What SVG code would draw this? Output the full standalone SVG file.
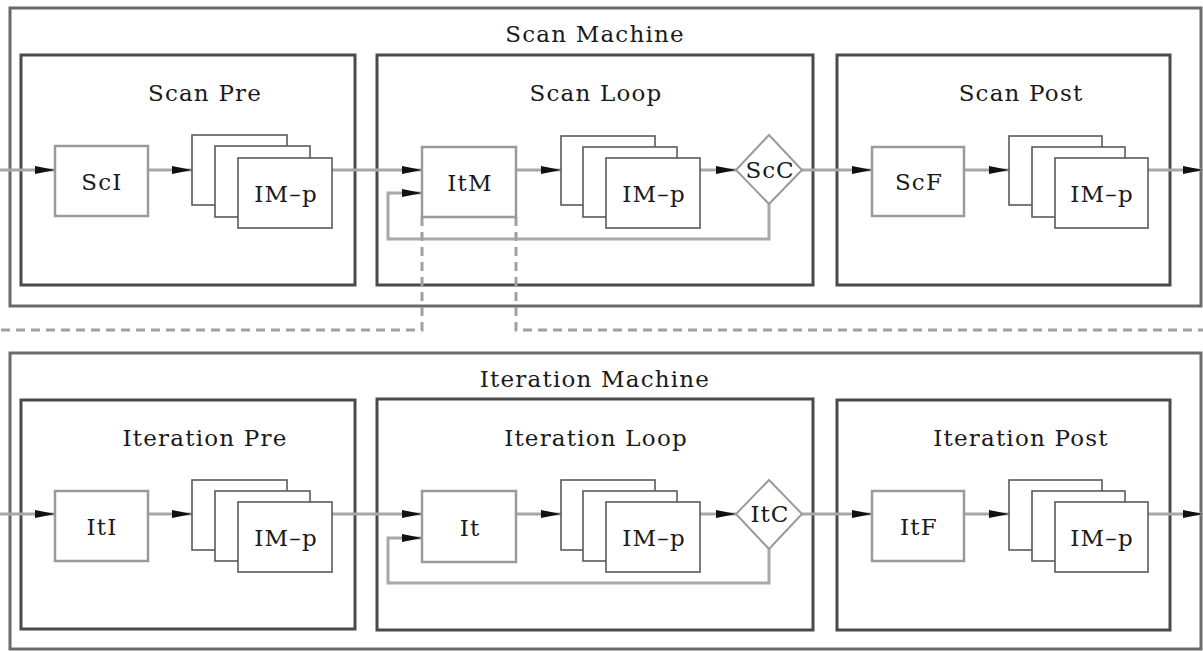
<svg xmlns="http://www.w3.org/2000/svg" width="1203" height="651" viewBox="0 0 1203 651">
<style>
.machine{fill:none;stroke:#6a6a6a;stroke-width:3}
.phase{fill:none;stroke:#4a4a4a;stroke-width:3}
.node{fill:#fff;stroke:#9a9a9a;stroke-width:2.5}
.stk{fill:#fff;stroke:#5a5a5a;stroke-width:1.6}
.dia{fill:#fff;stroke:#9a9a9a;stroke-width:2}
.conn{fill:none;stroke:#a8a8a8;stroke-width:3}
.dash{fill:none;stroke:#a0a0a0;stroke-width:3;stroke-dasharray:9,6}
text{font-family:"DejaVu Serif","Liberation Serif",serif;fill:#1a1a1a;text-anchor:middle;font-size:23px;letter-spacing:1.2px}
</style>
<defs>
<marker id="ah" viewBox="0 0 20 10" refX="20" refY="5" markerWidth="20" markerHeight="10" markerUnits="userSpaceOnUse" orient="auto">
<path d="M0,1 L20,5 L0,9 Z" fill="#111"/>
</marker>
</defs>
<rect width="1203" height="651" fill="#fff"/>

<g id="scan-machine">
<rect class="machine" x="10" y="8" width="1191" height="298"/>
<text x="595" y="42">Scan Machine</text>
</g>
<g id="iteration-machine">
<rect class="machine" x="10" y="353" width="1191" height="296"/>
<text x="595" y="387">Iteration Machine</text>
</g>

<g id="scan-pre"><rect class="phase" x="21" y="55" width="334" height="230"/><text x="205" y="101">Scan Pre</text></g>
<g id="scan-loop"><rect class="phase" x="377" y="55" width="436" height="230"/><text x="596" y="101">Scan Loop</text></g>
<g id="scan-post"><rect class="phase" x="837" y="55" width="333" height="230"/><text x="1021" y="101">Scan Post</text></g>
<g id="iteration-pre"><rect class="phase" x="21" y="400" width="334" height="229"/><text x="205" y="446">Iteration Pre</text></g>
<g id="iteration-loop"><rect class="phase" x="377" y="399" width="436" height="231"/><text x="596" y="446">Iteration Loop</text></g>
<g id="iteration-post"><rect class="phase" x="837" y="400" width="333" height="230"/><text x="1021" y="446">Iteration Post</text></g>

<g id="connectors">
<line class="conn" x1="0" y1="170" x2="55" y2="170" marker-end="url(#ah)"/>
<line class="conn" x1="148" y1="170" x2="192" y2="170" marker-end="url(#ah)"/>
<line class="conn" x1="332" y1="170" x2="422" y2="170" marker-end="url(#ah)"/>
<line class="conn" x1="516" y1="170" x2="561" y2="170" marker-end="url(#ah)"/>
<line class="conn" x1="700" y1="170" x2="736" y2="170" marker-end="url(#ah)"/>
<line class="conn" x1="802" y1="170" x2="872" y2="170" marker-end="url(#ah)"/>
<line class="conn" x1="964" y1="170" x2="1009" y2="170" marker-end="url(#ah)"/>
<line class="conn" x1="1148" y1="170" x2="1203" y2="170" marker-end="url(#ah)"/>
<path class="conn" d="M769,204 V239 H388 V193 H422" marker-end="url(#ah)"/>
<line class="conn" x1="0" y1="514" x2="55" y2="514" marker-end="url(#ah)"/>
<line class="conn" x1="148" y1="514" x2="192" y2="514" marker-end="url(#ah)"/>
<line class="conn" x1="332" y1="514" x2="422" y2="514" marker-end="url(#ah)"/>
<line class="conn" x1="516" y1="514" x2="561" y2="514" marker-end="url(#ah)"/>
<line class="conn" x1="700" y1="514" x2="736" y2="514" marker-end="url(#ah)"/>
<line class="conn" x1="802" y1="514" x2="872" y2="514" marker-end="url(#ah)"/>
<line class="conn" x1="964" y1="514" x2="1009" y2="514" marker-end="url(#ah)"/>
<line class="conn" x1="1148" y1="514" x2="1203" y2="514" marker-end="url(#ah)"/>
<path class="conn" d="M769,549 V583 H388 V538 H422" marker-end="url(#ah)"/>
<path class="dash" d="M422,217 V330 H0"/>
<path class="dash" d="M516,217 V330 H1203"/>
</g>

<g id="ScI"><rect class="node" x="55" y="146" width="93" height="70"/><text x="102" y="190">ScI</text></g>
<g id="ScPre-IMp">
<rect class="stk" x="192" y="135" width="95" height="70"/>
<rect class="stk" x="215" y="146" width="95" height="71"/>
<rect class="stk" x="238" y="158" width="94" height="70"/>
<text x="286" y="202">IM&#8211;p</text>
</g>
<g id="ItM"><rect class="node" x="422" y="147" width="94" height="70"/><text x="470" y="191">ItM</text></g>
<g id="ScLoop-IMp">
<rect class="stk" x="561" y="136" width="94" height="69"/>
<rect class="stk" x="583" y="147" width="94" height="70"/>
<rect class="stk" x="606" y="158" width="94" height="70"/>
<text x="654" y="202">IM&#8211;p</text>
</g>
<g id="ScC"><polygon class="dia" points="769,135 802,170 769,204 736,170"/><text x="770" y="178" style="letter-spacing:1px">ScC</text></g>
<g id="ScF"><rect class="node" x="872" y="147" width="92" height="69"/><text x="919" y="190">ScF</text></g>
<g id="ScPost-IMp">
<rect class="stk" x="1009" y="136" width="93" height="69"/>
<rect class="stk" x="1032" y="147" width="93" height="70"/>
<rect class="stk" x="1055" y="158" width="93" height="70"/>
<text x="1102" y="202">IM&#8211;p</text>
</g>

<g id="ItI"><rect class="node" x="55" y="491" width="93" height="70"/><text x="102" y="535">ItI</text></g>
<g id="ItPre-IMp">
<rect class="stk" x="192" y="480" width="95" height="70"/>
<rect class="stk" x="215" y="491" width="95" height="70"/>
<rect class="stk" x="238" y="502" width="94" height="70"/>
<text x="286" y="546">IM&#8211;p</text>
</g>
<g id="It"><rect class="node" x="422" y="491" width="94" height="71"/><text x="470" y="536">It</text></g>
<g id="ItLoop-IMp">
<rect class="stk" x="561" y="480" width="94" height="70"/>
<rect class="stk" x="583" y="491" width="94" height="70"/>
<rect class="stk" x="606" y="502" width="94" height="70"/>
<text x="654" y="546">IM&#8211;p</text>
</g>
<g id="ItC"><polygon class="dia" points="769,480 802,514 769,549 736,514"/><text x="770" y="522" style="letter-spacing:1px">ItC</text></g>
<g id="ItF"><rect class="node" x="872" y="491" width="92" height="70"/><text x="919" y="535">ItF</text></g>
<g id="ItPost-IMp">
<rect class="stk" x="1009" y="480" width="93" height="70"/>
<rect class="stk" x="1032" y="491" width="93" height="70"/>
<rect class="stk" x="1055" y="502" width="93" height="70"/>
<text x="1102" y="546">IM&#8211;p</text>
</g>
</svg>
